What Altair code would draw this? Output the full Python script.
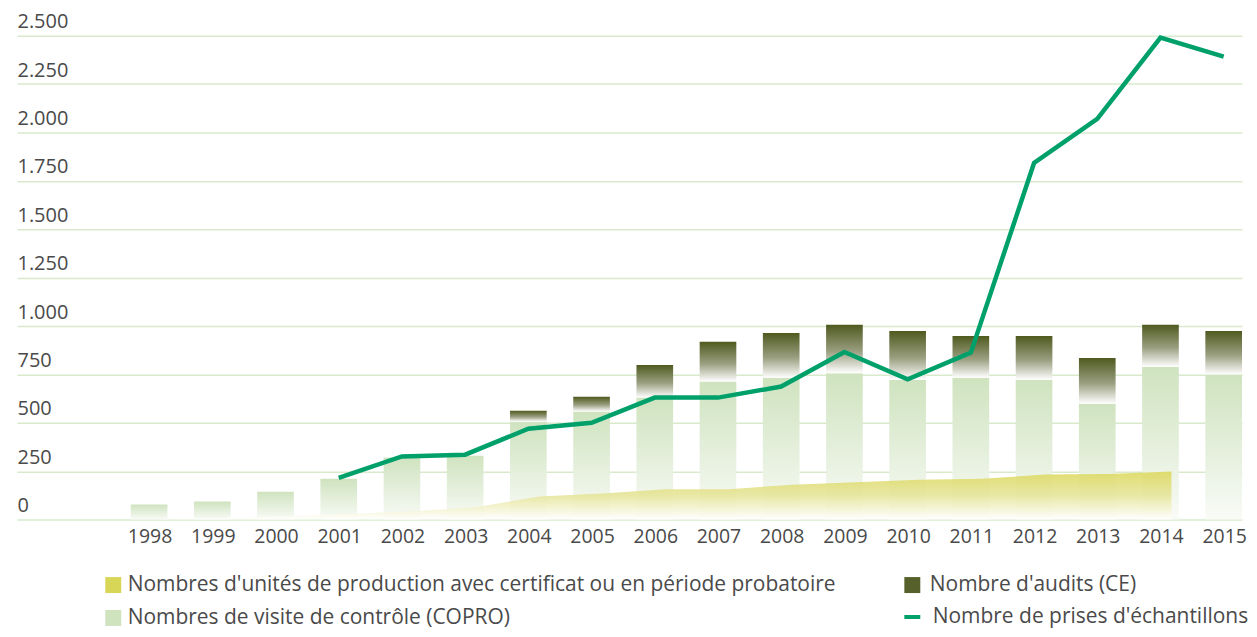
import altair as alt
import pandas as pd

# ---------------- data ----------------
years = [str(y) for y in range(1998, 2016)]
copro = [77, 93, 144, 211, 321, 330, 505, 558, 630, 713, 732, 756, 722, 732, 722, 598, 789, 749]
audits = [0, 0, 0, 0, 0, 0, 57, 76, 169, 205, 232, 250, 252, 216, 226, 237, 218, 225]
unit_years = years[:17]
unites = [2, 8, 17, 30, 43, 63, 119, 135, 156, 157, 180, 193, 205, 210, 232, 235, 248]
samples = [None, None, None, 215, 326, 335, 469, 500, 630, 630, 687, 866, 725, 862, 1842, 2070, 2490, 2392]
y_ticks = [0, 250, 500, 750, 1000, 1250, 1500, 1750, 2000, 2250, 2500]

lab_units = "Nombres d'unités de production avec certificat ou en période probatoire"
lab_copro = "Nombres de visite de contrôle (COPRO)"
lab_audits = "Nombre d'audits (CE)"
lab_samples = "Nombre de prises d'échantillons"

# ---------------- styles ----------------
FONT = "Open Sans"
TXT = "#4a4a4a"
C_YEL = "#d8d657"
C_LGR = "#cfe3bf"
C_DRK = "#55602a"
C_LINE = "#00a06b"
GRID = "#d9eacc"
LEG_FS = 21

def vgrad(top, bottom, mid=None):
    stops = [alt.GradientStop(color=top, offset=0)]
    if mid:
        stops.append(alt.GradientStop(color=mid[0], offset=mid[1]))
    stops.append(alt.GradientStop(color=bottom, offset=1))
    return alt.Gradient(gradient="linear", stops=stops, x1=0, x2=0, y1=0, y2=1)

bars_df = pd.DataFrame({"year": years, "copro": copro, "audits": audits})
bars_df["top"] = bars_df["copro"] + bars_df["audits"]
area_df = pd.DataFrame({"year": unit_years, "unites": unites})
line_df = pd.DataFrame({"year": years, "samples": samples, "series": [lab_samples] * len(years)})
leg_df = pd.DataFrame({"label": [lab_units, lab_copro, lab_audits]})

xscale = alt.Scale(domain=years, paddingInner=0.42, paddingOuter=0.9, align=1)
yscale = alt.Scale(domain=[0, 2500], nice=False)

yaxis = alt.Axis(
    values=y_ticks,
    labelExpr="replace(format(datum.value, ','), ',', '.')",
    labelAlign="left", labelBaseline="bottom", labelPadding=0, labelOffset=-4,
    ticks=False, tickSize=0, domain=False, grid=True, gridColor=GRID, gridWidth=1.5,
    labelFontSize=20, labelFont=FONT, labelColor=TXT, labelFlush=False,
    labelOverlap=False, title=None,
)
xaxis = alt.Axis(
    labelFontSize=19.5, labelFont=FONT, labelColor=TXT, labelAngle=0,
    ticks=False, tickSize=0, domain=False, grid=False, labelPadding=8,
    labelOffset=1, title=None,
)

def legend(x, y, **kw):
    base = dict(title=None, orient="none", legendX=x, legendY=y, direction="vertical",
                labelFontSize=LEG_FS, labelFont=FONT, labelColor=TXT, labelLimit=2000,
                padding=0, rowPadding=11, labelOffset=4, symbolSize=256, symbolOpacity=1)
    base.update(kw)
    return alt.Legend(**base)

X = alt.X("year:O", scale=xscale, axis=xaxis)

copro_bars = alt.Chart(bars_df).mark_bar(
    color=vgrad(C_LGR, "#f9fbf7")
).encode(
    x=X,
    y=alt.Y("copro:Q", scale=yscale, axis=yaxis),
)

audit_bars = alt.Chart(bars_df).transform_filter("datum.audits > 0").mark_bar(
    color=vgrad("#4f5a1f", "#ffffff", ("#9a9f80", 0.55))
).encode(
    x=X,
    y=alt.Y("copro:Q", scale=yscale, axis=yaxis),
    y2="top:Q",
)

area = alt.Chart(area_df).mark_area(
    color=vgrad("#dcd85c", "#ffffff", ("#e6e59a", 0.5)), opacity=0.88
).encode(
    x=alt.X("year:O", scale=xscale, axis=xaxis, bandPosition=0.8),
    y=alt.Y("unites:Q", scale=yscale, axis=yaxis),
)

line = alt.Chart(line_df).mark_line(strokeWidth=4.5, strokeJoin="miter").encode(
    x=X,
    y=alt.Y("samples:Q", scale=yscale, axis=yaxis),
    stroke=alt.Stroke("series:N", scale=alt.Scale(domain=[lab_samples], range=[C_LINE]),
                      legend=legend(887, 572.2, symbolType="stroke", symbolStrokeWidth=4,
                                    labelOffset=10)),
)

leg_left = alt.Chart(leg_df).transform_filter("false").mark_square(opacity=1).encode(
    color=alt.Color("label:N", scale=alt.Scale(domain=[lab_units, lab_copro], range=[C_YEL, C_LGR]),
                    legend=legend(86, 540.2, symbolType="square", symbolStrokeWidth=0)),
)
leg_right = alt.Chart(leg_df).transform_filter("false").mark_square(opacity=1).encode(
    fill=alt.Fill("label:N", scale=alt.Scale(domain=[lab_audits], range=[C_DRK]),
                  legend=legend(887, 540.2, symbolType="square", symbolStrokeWidth=0,
                                labelOffset=7)),
)

chart = alt.layer(copro_bars, audit_bars, area, line, leg_left, leg_right).resolve_scale(
    color="independent", fill="independent", stroke="independent"
).properties(
    width=1228, height=485,
    padding={"left": 9, "top": 3, "right": 0, "bottom": 0},
    background="white",
).configure_view(stroke=None)

chart.save("out.html", embed_options={"renderer": "svg", "actions": False})
